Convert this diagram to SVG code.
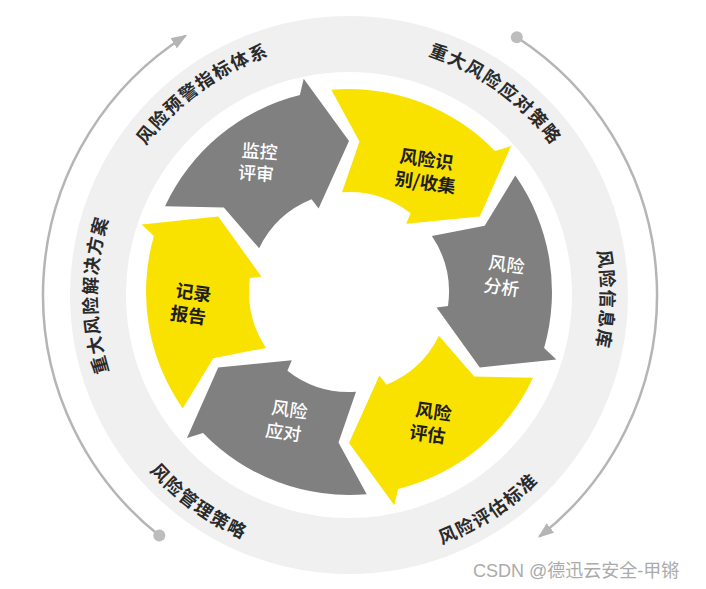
<svg xmlns="http://www.w3.org/2000/svg" width="706" height="589" viewBox="0 0 706 589">
<style>
.gray{fill:#808080}
.yellow{fill:#f9e100}
.lblw{font-family:"Noto Sans CJK SC","Noto Sans",sans-serif;font-size:18px;font-weight:500;fill:#ffffff;text-anchor:middle}
.lblb{font-family:"Noto Sans CJK SC","Noto Sans",sans-serif;font-size:18px;font-weight:700;fill:#1e1e1e;text-anchor:middle}
.band{font-family:"Noto Sans CJK SC","Noto Sans",sans-serif;font-size:18px;font-weight:700;fill:#2a2a2a;letter-spacing:1.5px}
.arc{fill:none;stroke:#b5b5b5;stroke-width:2.5}
.dot{fill:#bdbdbd}
</style>
<defs>
<marker id="ah" viewBox="0 0 16 12" refX="14" refY="6" markerWidth="16" markerHeight="12" markerUnits="userSpaceOnUse" orient="auto">
<path d="M0,0 L16,6 L0,12 z" fill="#b5b5b5"/>
</marker>
<path id="p1" d="M187,488 A252,252 0 0 1 187,102"/>
<path id="p2" d="M97.6,277.4 A252,252 0 0 1 410,50.5"/>
<path id="p3" d="M288,50.5 A252,252 0 0 1 600.4,277.4"/>
<path id="p4" d="M514.3,104.8 A252,252 0 0 1 507.6,490.8"/>
<path id="p5" d="M83.6,313.6 A266,266 0 0 0 413.3,553.1"/>
<path id="p6" d="M271.2,549.4 A266,266 0 0 0 613,327.4"/>
</defs>
<rect x="0" y="0" width="706" height="589" fill="#ffffff"/>
<circle id="band-ring" cx="349" cy="295" r="251" fill="none" stroke="#f0f0f1" stroke-width="56"/>
<g id="connectors">
<path class="arc" d="M159.3,535.6 A307,307 0 0 1 185.5,35.8" marker-end="url(#ah)"/>
<circle class="dot" cx="159.3" cy="535.6" r="6"/>
<path class="arc" d="M516.8,37.2 A307,307 0 0 1 539.4,536.6" marker-end="url(#ah)"/>
<circle class="dot" cx="516.8" cy="37.2" r="6"/>
</g>
<g id="band-labels">
<text class="band"><textPath href="#p1" startOffset="50%" text-anchor="middle">重大风险解决方案</textPath></text>
<text class="band"><textPath href="#p2" startOffset="50%" text-anchor="middle">风险预警指标体系</textPath></text>
<text class="band"><textPath href="#p3" startOffset="50%" text-anchor="middle">重大风险应对策略</textPath></text>
<text class="band"><textPath href="#p4" startOffset="50%" text-anchor="middle">风险信息库</textPath></text>
<text class="band"><textPath href="#p5" startOffset="50%" text-anchor="middle">风险管理策略</textPath></text>
<text class="band"><textPath href="#p6" startOffset="50%" text-anchor="middle">风险评估标准</textPath></text>
</g>
<g id="node-monitor">
<path class="gray" d="M165,206.2 A203,203 0 0 1 299.9,95 L303.7,78.8 L349,141 L318.6,208.4 L311.5,199.3 A100,100 0 0 0 259.1,248.2 L223.8,207.6 Z"/>
<text class="lblw" transform="rotate(4 258 160)"><tspan x="259" y="158">监控</tspan><tspan x="257" y="180">评审</tspan></text>
</g>
<g id="node-identify">
<path class="yellow" d="M331.3,89.8 A203,203 0 0 1 495,151 L511,146.1 L479.8,216.5 L406.2,223.8 L410.6,213.2 A100,100 0 0 0 342,192.2 L359.5,141.4 Z"/>
<text class="lblb" transform="rotate(8 425 171)"><tspan x="425" y="166">风险识</tspan><tspan x="427" y="189">别/收集</tspan></text>
</g>
<g id="node-analysis">
<path class="gray" d="M515.3,175.6 A203,203 0 0 1 544.1,348 L556.3,359.4 L479.8,367.5 L436.6,307.5 L448,305.9 A100,100 0 0 0 431.9,236.1 L484.7,225.8 Z"/>
<text class="lblw" transform="rotate(8 504 276)"><tspan x="505" y="271">风险</tspan><tspan x="503" y="294">分析</tspan></text>
</g>
<g id="node-assess">
<path class="yellow" d="M533,377.8 A203,203 0 0 1 398.1,489 L394.3,505.2 L349,443 L379.4,375.6 L386.5,384.7 A100,100 0 0 0 438.9,335.8 L474.2,376.4 Z"/>
<text class="lblb" transform="rotate(8 430 423)"><tspan x="432" y="418">风险</tspan><tspan x="429" y="441">评估</tspan></text>
</g>
<g id="node-respond">
<path class="gray" d="M366.7,494.2 A203,203 0 0 1 203,433 L187,437.9 L218.2,367.5 L291.8,360.2 L287.4,370.8 A100,100 0 0 0 356,391.8 L338.5,442.6 Z"/>
<text class="lblw" transform="rotate(8 286 421)"><tspan x="288" y="416">风险</tspan><tspan x="285" y="439">应对</tspan></text>
</g>
<g id="node-report">
<path class="yellow" d="M182.7,408.4 A203,203 0 0 1 153.9,236 L141.7,224.6 L218.2,216.5 L261.4,276.5 L250,278.1 A100,100 0 0 0 266.1,347.9 L213.3,358.2 Z"/>
<text class="lblb" transform="rotate(8 191 303)"><tspan x="192" y="299">记录</tspan><tspan x="190" y="322">报告</tspan></text>
</g>
<text x="473" y="577" font-family="Liberation Sans,'Noto Sans CJK SC',sans-serif" font-size="18" fill="#ababab">CSDN @德迅云安全-甲锵</text>
</svg>
